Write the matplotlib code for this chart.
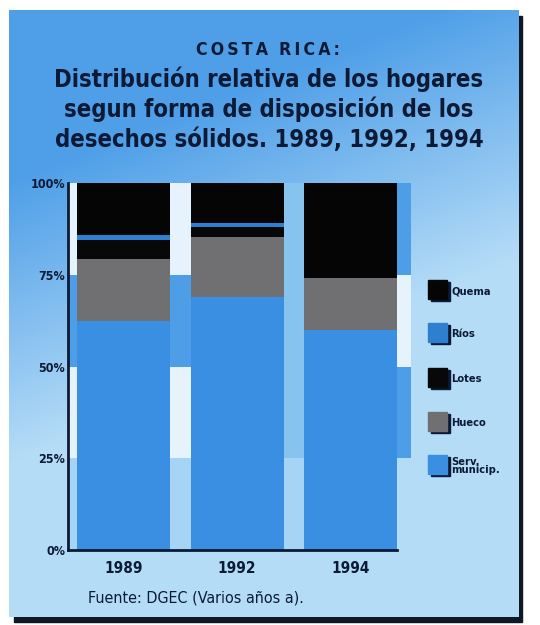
import numpy as np
import matplotlib.pyplot as plt
from matplotlib.patches import Rectangle
from matplotlib.colors import to_rgb

# ----------------------------------------------------------------------
# Data (percent of households)
years = ["1989", "1992", "1994"]
serv_municip = [62.5, 69.0, 59.9]
hueco = [16.7, 16.2, 14.3]
lotes = [5.3, 2.9, 0.0]
rios = [1.3, 0.9, 0.0]
quema = [14.2, 11.0, 25.8]

series_names = ["Serv.\nmunicip.", "Hueco", "Lotes", "Ríos", "Quema"]
series_vals = [serv_municip, hueco, lotes, rios, quema]
series_cols = ["#3b8fe2", "#707072", "#080808", "#2f7fd0", "#050505"]

ytick_vals = [0, 25, 50, 75, 100]
ytick_labels = ["0%", "25%", "50%", "75%", "100%"]

NAVY = "#0c1a35"
plt.rcParams["font.family"] = ["DejaVu Sans"]
plt.rcParams["font.stretch"] = "condensed"

# ----------------------------------------------------------------------
fig = plt.figure(figsize=(5.4, 6.25), dpi=100, facecolor="white")

# background in pixel coordinates
bg = fig.add_axes([0, 0, 1, 1])
bg.set_xlim(0, 540)
bg.set_ylim(625, 0)
bg.axis("off")

# drop shadow of the panel
bg.add_patch(Rectangle((14, 16), 508, 606, color="#101825", zorder=0))

# diagonal gradient panel
yy, xx = np.mgrid[10:617, 9:519]
t = np.clip((yy - 170) / 280 + (xx - 40) / 560 * 0.8, 0, 1)
c0 = np.array(to_rgb("#4f9fe8"))
c1 = np.array(to_rgb("#b5dcf7"))
img = c0[None, None, :] * (1 - t[..., None]) + c1[None, None, :] * t[..., None]
bg.imshow(img, extent=[9, 519, 617, 10], aspect="auto", zorder=1)

# titles
head = bg.text(268, 50, "C\u2009O\u2009S\u2009T\u2009A  R\u2009I\u2009C\u2009A\u2009:",
               ha="center", va="center", fontsize=15, fontweight="bold",
               color=NAVY, zorder=3)
title_lines = ["Distribución relativa de los hogares",
               "segun forma de disposición de los",
               "desechos sólidos. 1989, 1992, 1994"]
title_txt = []
for i, line in enumerate(title_lines):
    title_txt.append(bg.text(269, 87 + i * 30, line, ha="center",
                             va="baseline", fontsize=20, fontweight="bold",
                             color=NAVY, zorder=3))

src = bg.text(88, 598, "Fuente: DGEC (Varios años a).", ha="left",
              va="center", fontsize=11, color=NAVY, zorder=3)

# legend (top entry is Quema)
leg_y = [290, 333, 378, 422, 465]
for yc, name, col in zip(leg_y, series_names[::-1], series_cols[::-1]):
    bg.add_patch(Rectangle((431, yc - 8), 19, 19, color=NAVY, zorder=3))
    bg.add_patch(Rectangle((428, yc - 10), 19, 19, color=col, zorder=4))
    bg.text(451, yc + 1, name, ha="left", va="center", fontsize=8,
            fontweight="bold", color=NAVY, linespacing=0.8, zorder=4)

# ----------------------------------------------------------------------
ax = fig.add_axes([68 / 540, 1 - 550 / 625, 329 / 540, 367 / 625])
ax.patch.set_alpha(0)
x = np.arange(len(years))
width = 0.82

# decorative stripes behind bars
WHITE = "#e6f3fc"
BLUE = "#4d9ee7"
LIGHT = "#a6d4f5"
MID = "#86c3ef"
stripes = [
    (-0.49, 0.08, [LIGHT, WHITE, BLUE, WHITE]),
    (0.41, 0.18, [LIGHT, WHITE, BLUE, WHITE]),
    (1.41, 0.18, [LIGHT, MID, MID, MID]),
    (2.41, 0.12, ["none", BLUE, WHITE, BLUE]),
]
for x0, w, cols in stripes:
    for k, col in enumerate(cols):
        if col == "none":
            continue
        ax.add_patch(Rectangle((x0, k * 25), w, 25, color=col, zorder=0,
                               clip_on=False, lw=0))

bottom = np.zeros(len(years))
for vals, col in zip(series_vals, series_cols):
    ax.bar(x, vals, width, bottom=bottom, color=col, edgecolor="none", zorder=2)
    bottom += np.array(vals)

ax.set_xlim(-0.49, 2.41)
ax.set_ylim(0, 100)
ax.set_yticks(ytick_vals)
ax.set_yticklabels(ytick_labels)
ax.set_xticks(x)
ax.set_xticklabels(years)
for s in ["top", "right"]:
    ax.spines[s].set_visible(False)
for s in ["left", "bottom"]:
    ax.spines[s].set_color(NAVY)
    ax.spines[s].set_linewidth(2)
    ax.spines[s].set_zorder(5)
ax.tick_params(axis="y", length=0, pad=2, labelsize=9, labelcolor=NAVY)
ax.tick_params(axis="x", length=3, width=1.5, direction="in", color=NAVY,
               pad=8, labelsize=11, labelcolor=NAVY)
for lab in ax.get_xticklabels() + ax.get_yticklabels():
    lab.set_fontweight("bold")

# fit text widths to the reference
fig.canvas.draw()
r = fig.canvas.get_renderer()
w0 = title_txt[0].get_window_extent(r).width
for tt in title_txt:
    tt.set_fontsize(20 * 430 / w0)
hw = head.get_window_extent(r).width
head.set_fontsize(15 * 145 / hw)
sw = src.get_window_extent(r).width
src.set_fontsize(11 * 217 / sw)

fig.savefig("out.png", dpi=100, facecolor="white")
